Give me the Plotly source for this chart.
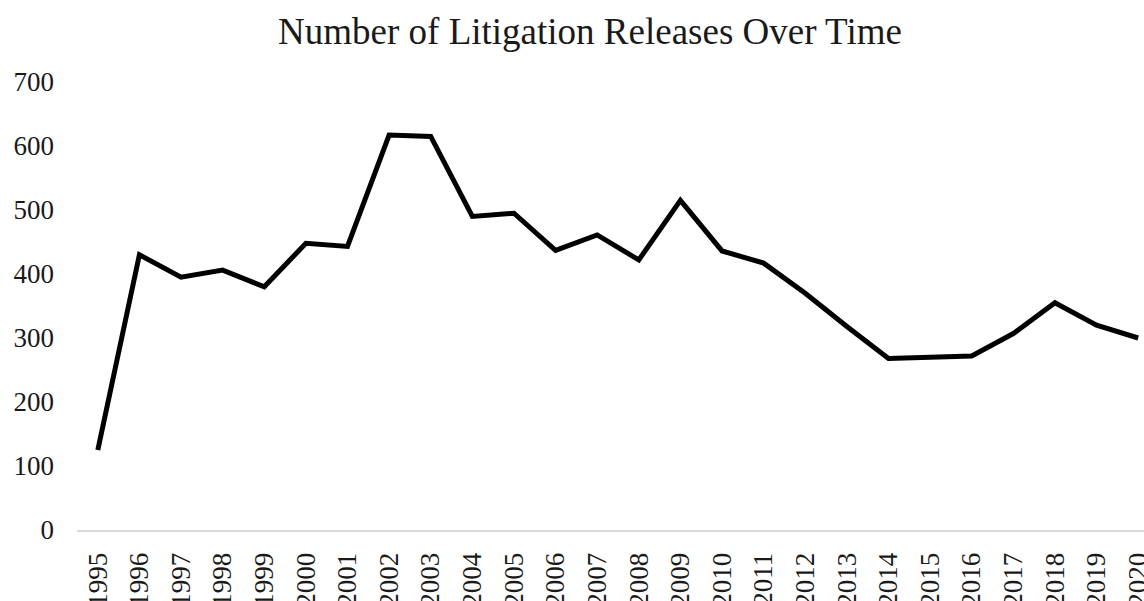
import plotly.graph_objects as go

years = [str(y) for y in range(1995, 2021)]
releases = [125, 430, 395, 406, 380, 448, 443, 617, 615, 490, 495, 437, 461, 422,
            515, 436, 417, 370, 318, 268, 270, 272, 307, 355, 320, 300]
y_ticks = [0, 100, 200, 300, 400, 500, 600, 700]

FONT = "Liberation Serif, Times New Roman, serif"

fig = go.Figure()
fig.add_trace(go.Scatter(
    x=years, y=releases, mode="lines",
    line=dict(color="black", width=5),
    showlegend=False,
))

fig.update_layout(
    width=1144, height=601,
    margin=dict(l=77, r=0, t=82, b=71),
    paper_bgcolor="white", plot_bgcolor="white",
    title=dict(text="Number of Litigation Releases Over Time",
               x=590 / 1144, xref="container", xanchor="center",
               y=1 - 31 / 601, yref="container", yanchor="middle",
               font=dict(family=FONT, size=37, color="#1a1a1a")),
    font=dict(family=FONT, color="#1a1a1a"),
)
fig.update_xaxes(
    type="category", range=[-0.5, 25.14], automargin=False,
    showline=True, linecolor="#d9d9d9", linewidth=2,
    showgrid=False, zeroline=False, ticks="",
    tickangle=-90, tickfont=dict(family=FONT, size=27, color="#1a1a1a"),
    ticklabelstandoff=10,
)
fig.update_yaxes(
    range=[0, 700], tickvals=y_ticks, automargin=False,
    showline=False, showgrid=False, zeroline=False, ticks="",
    tickfont=dict(family=FONT, size=27, color="#1a1a1a"),
    ticklabelstandoff=22,
)

fig.write_html("out.html")
